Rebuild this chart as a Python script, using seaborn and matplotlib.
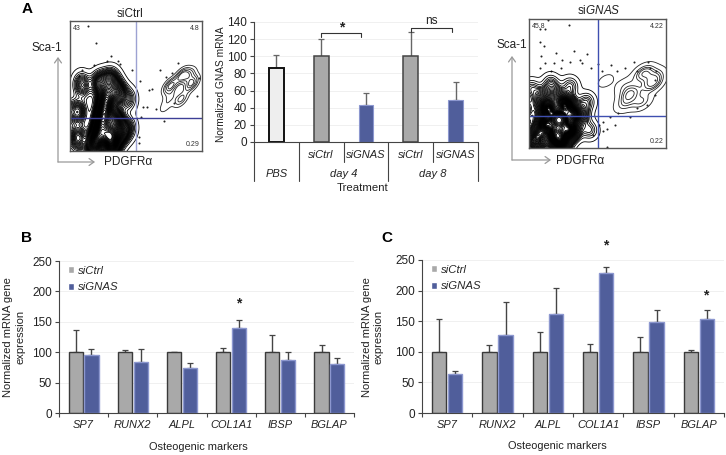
import numpy as np
import pandas as pd
import matplotlib
matplotlib.use("Agg")
import matplotlib.pyplot as plt
from matplotlib.transforms import blended_transform_factory
import seaborn as sns

# ---- panel A bars
a_groups = ["PBS", "siCtrl d4", "siGNAS d4", "siCtrl d8", "siGNAS d8"]
a_means = [86, 100, 43, 100, 49]
a_tops = [101, 120, 57, 128, 70]

# ---- panels B / C
markers = ["SP7", "RUNX2", "ALPL", "COL1A1", "IBSP", "BGLAP"]
b_ctrl = [100, 100, 100, 100, 100, 100]
b_ctrl_top = [136, 103, 101, 107, 128, 112]
b_gnas = [95, 84, 74, 140, 87, 81]
b_gnas_top = [105, 105, 83, 153, 101, 91]
c_ctrl = [100, 100, 100, 100, 100, 100]
c_ctrl_top = [153, 111, 132, 113, 124, 103]
c_gnas = [64, 128, 161, 229, 149, 153]
c_gnas_top = [69, 182, 205, 238, 168, 168]

# ---- flow plots: density anchors (x, y, weight) and lone events, 0-100 units
ctrl_x = [-4, 6, 6, 18, 22, 24, 26, 28, 30, 32, 34, 36, 30, 22, 38, 10, 44, 44, 34, 24, 8]
ctrl_y = [30, 10, 30, 5, 12, 22, 32, 42, 12, 4, 24, 45, 54, 52, 14, 50, 40, 18, 56, 54, 52]
ctrl_w = [5, 6, 6, 9, 12, 12, 12, 10, 14, 9, 10, 8, 6, 5, 8, 3, 3, 3, 1, 1, 2]
ctrl_x2 = [76, 92, 84, 85, 76, 90, 72]
ctrl_y2 = [50, 52, 40, 58, 42, 58, 34]
ctrl_w2 = [8, 8, 5, 8, 3, 5, 2]
ctrl_dots_x = [14, 20, 31, 36, 28, 38, 18, 9, 7, 47, 53, 68, 82, 77, 73, 62, 60, 98, 96, 79, 58, 55, 65, 54, 71, 52, 52]
ctrl_dots_y = [96, 83, 73, 69, 69, 67, 66, 62, 58, 62, 54, 62, 68, 60, 57, 48, 47, 56, 42, 37, 34, 34, 32, 26, 23, 11, 6]

gnas_x = [6, 12, 14, 20, 22, 26, 30, 32, 18, 10, 24, -4, 38, 42, 30, 16, 44, 2]
gnas_y = [8, 18, 30, 10, 22, 34, 14, 26, 40, 38, 4, 30, 26, 36, 48, 50, 14, 46]
gnas_w = [10, 12, 12, 14, 16, 12, 12, 10, 5, 5, 8, 4, 3, 2, 2, 2, 2, 2]
gnas_x2 = [74, 90, 82, 84, 70, 92, 56, 70]
gnas_y2 = [42, 50, 36, 58, 34, 56, 52, 48]
gnas_w2 = [8, 8, 5, 8, 4, 4, 2, 3]
gnas_dots_x = [14, 12, 8, 29, 8, 11, 20, 33, 42, 9, 12, 18, 24, 30, 37, 39, 8, 16, 23, 45, 50, 53, 60, 64, 70, 77, 87, 88, 79, 93, 92, 92, 86, 79, 74, 65, 59, 54, 63, 57, 51, 47, 57, 54]
gnas_dots_y = [99, 92, 92, 95, 82, 79, 74, 75, 73, 71, 66, 66, 68, 67, 68, 66, 62, 60, 62, 62, 65, 60, 64, 60, 62, 67, 67, 62, 60, 60, 53, 41, 33, 31, 24, 27, 24, 20, 18, 15, 18, 10, 1, 13]

GREY = "#a9a9a9"
BLUE = "#4356a8"
W, H = 726, 455

sns.set_theme(style="white")
plt.rcParams["font.family"] = ["Liberation Sans", "DejaVu Sans"]
plt.rcParams["font.size"] = 8
plt.rcParams["mathtext.fontset"] = "custom"
plt.rcParams["mathtext.rm"] = "Liberation Sans"
plt.rcParams["mathtext.it"] = "Liberation Sans:italic"

fig = plt.figure(figsize=(W / 100, H / 100), dpi=100)


def px_axes(x0, y0, x1, y1):
    # pixel box, y measured from the top of the image
    return fig.add_axes([x0 / W, 1 - y1 / H, (x1 - x0) / W, (y1 - y0) / H])


def px_text(x, y, s, **kw):
    kw.setdefault("ha", "center")
    kw.setdefault("va", "center")
    kw.setdefault("color", "#222222")
    fig.text(x / W, 1 - y / H, s, **kw)


def px_arrow(x0, y0, x1, y1):
    fig.add_artist(matplotlib.patches.FancyArrowPatch(
        (x0 / W, 1 - y0 / H), (x1 / W, 1 - y1 / H), transform=fig.transFigure,
        arrowstyle="->,head_length=3.5,head_width=2.5", color="#999999", lw=0.9,
        shrinkA=0, shrinkB=0))


def style_bar_axis(ax, ymax, step):
    ax.set_ylim(0, ymax)
    ax.set_yticks(np.arange(0, ymax + 1, step))
    ax.yaxis.grid(True, color="#f0f0f0", lw=0.7)
    ax.set_axisbelow(True)
    ax.set_xlabel("")
    ax.set_ylabel("")
    sns.despine(ax=ax)
    for side in ["left", "bottom"]:
        ax.spines[side].set_color("#444444")
        ax.spines[side].set_linewidth(0.8)
    ax.tick_params(axis="y", left=True, length=3, width=0.8, color="#444444",
                   labelsize=8.5, pad=2, labelcolor="#222222")


def draw_errs(ax, xs, means, tops, color, cap=2.5):
    means = np.array(means)
    tops = np.array(tops)
    ax.errorbar(xs, means, yerr=[np.zeros(len(means)), tops - means], fmt="none",
                ecolor=color, elinewidth=1.0, capsize=cap, capthick=0.9, zorder=1.5)


def marker_panel(box, ctrl, ctrl_top, gnas, gnas_top):
    ax = px_axes(*box)
    df = pd.DataFrame({
        "marker": markers * 2,
        "value": ctrl + gnas,
        "group": ["siCtrl"] * len(markers) + ["siGNAS"] * len(markers),
    })
    sns.barplot(data=df, x="marker", y="value", hue="group", hue_order=["siCtrl", "siGNAS"],
                palette=[GREY, BLUE], width=0.64, gap=0.1, errorbar=None, ax=ax, zorder=2)
    edges = ["#3a3a3a", "#8c97cf"]
    tops = [ctrl_top, gnas_top]
    vals = [ctrl, gnas]
    for cont, edge, top, val in zip(ax.containers, edges, tops, vals):
        xs = []
        for p in cont:
            p.set_edgecolor(edge)
            p.set_linewidth(1.0)
            xs.append(p.get_x() + p.get_width() / 2)
        draw_errs(ax, xs, val, top, "#444444")
    style_bar_axis(ax, 250, 50)
    ax.set_xlim(-0.5, 5.5)
    ax.set_xticks(np.arange(-0.5, 6, 1))
    ax.set_xticklabels([])
    ax.set_xticks(range(6), markers, minor=True, style="italic", fontsize=7.9, color="#222222")
    ax.tick_params(axis="x", which="major", bottom=True, length=3, width=0.8, color="#444444")
    ax.tick_params(axis="x", which="minor", bottom=False, pad=1)
    ax.legend(loc="upper left", bbox_to_anchor=(0.03, 0.97), frameon=False,
              prop={"style": "italic", "size": 8.2}, handlelength=0.55, handleheight=0.6,
              handletextpad=0.3, labelspacing=0.6, borderaxespad=0, borderpad=0)
    return ax


def flow_panel(box, x, y, w, x2, y2, w2, dx, dy, v_col, h_col, labels, bw, lv):
    ax = px_axes(*box)
    sns.kdeplot(x=x, y=y, weights=w, bw_method=bw, levels=lv, thresh=0.008, color="black",
                linewidths=0.6, cut=6, gridsize=220, ax=ax)
    sns.kdeplot(x=x2, y=y2, weights=w2, bw_method=0.5, levels=6, thresh=0.08, color="#222222",
                linewidths=0.6, cut=6, gridsize=120, ax=ax)
    sns.scatterplot(x=dx, y=dy, s=2.2, color="#222222", linewidth=0, ax=ax)
    ax.axvline(50, color=v_col, lw=1.0)
    ax.axhline(25, color=h_col, lw=1.0)
    ax.set_xlim(0, 100)
    ax.set_ylim(0, 100)
    ax.set_xticks([])
    ax.set_yticks([])
    ax.set_xlabel("")
    ax.set_ylabel("")
    for s in ax.spines.values():
        s.set_visible(True)
        s.set_color("#555555")
        s.set_linewidth(1.0)
    pos = [(2, 97, "left", "top"), (98, 97, "right", "top"),
           (2, 2, "left", "bottom"), (98, 2, "right", "bottom")]
    for (tx, ty, ha, va), lab in zip(pos, labels):
        ax.text(tx, ty, lab, fontsize=5, ha=ha, va=va, color="#333333", zorder=5)
    return ax


# ---- A: flow plots
flow_panel((70, 21, 202, 151), ctrl_x, ctrl_y, ctrl_w, ctrl_x2, ctrl_y2, ctrl_w2,
           ctrl_dots_x, ctrl_dots_y, "#9da2d2", "#3d3f96", ["43", "4.8", "51.9", "0.29"], 0.36, 48)
flow_panel((529, 19, 666, 148), gnas_x, gnas_y, gnas_w, gnas_x2, gnas_y2, gnas_w2,
           gnas_dots_x, gnas_dots_y, "#3f4fb0", "#3f4fb0", ["45.8", "4.22", "49.8", "0.22"], 0.4, 55)

px_text(130, 14, "siCtrl", fontsize=8.5)
px_text(47, 48, "Sca-1", fontsize=8.5)
px_text(128, 162, "PDGFRα", fontsize=8.5)
px_arrow(58, 162, 58, 57)
px_arrow(58, 162, 95, 162)

px_text(599, 11, "si$\\mathit{GNAS}$", fontsize=8.5)
px_text(512, 45, "Sca-1", fontsize=8.5)
px_text(580, 161, "PDGFRα", fontsize=8.5)
px_arrow(512, 160, 512, 56)
px_arrow(512, 160, 551, 160)

# ---- A: bars
ax_a = px_axes(254, 22, 478, 142)
sns.barplot(x=a_groups, y=a_means, hue=a_groups, palette=["#eeeeee", GREY, BLUE, GREY, BLUE],
            width=0.33, errorbar=None, legend=False, ax=ax_a, zorder=2)
a_edges = ["#111111", "#444444", "#8c97cf", "#444444", "#8c97cf"]
a_lw = [1.4, 1.1, 0.8, 1.1, 0.8]
a_xs = []
bars = [p for c in ax_a.containers for p in c]
for p, e, lw in zip(bars, a_edges, a_lw):
    p.set_edgecolor(e)
    p.set_linewidth(lw)
    a_xs.append(p.get_x() + p.get_width() / 2)
draw_errs(ax_a, a_xs, a_means, a_tops, "#666666", cap=2.2)
style_bar_axis(ax_a, 140, 20)
ax_a.set_xlim(-0.5, 4.5)
ax_a.set_xticks([])

tr = blended_transform_factory(ax_a.transData, ax_a.transAxes)
sep_x = [-0.5, 0.5, 1.5, 2.5, 3.5, 4.5]
sep_depth = [-0.325, -0.325, -0.165, -0.325, -0.165, -0.325]
for sx, d in zip(sep_x, sep_depth):
    ax_a.plot([sx, sx], [0, d], transform=tr, color="#444444", lw=0.8, clip_on=False)
for sx, lab in zip([1, 2, 3, 4], ["siCtrl", "siGNAS", "siCtrl", "siGNAS"]):
    ax_a.text(sx, -0.11, lab, transform=tr, ha="center", va="center", style="italic",
              fontsize=8, color="#222222")
for sx, lab in zip([0, 1.5, 3.5], ["PBS", "day 4", "day 8"]):
    ax_a.text(sx, -0.27, lab, transform=tr, ha="center", va="center", style="italic",
              fontsize=8, color="#222222")
px_text(363, 188, "Treatment", fontsize=8.2)

# significance brackets
ax_a.plot([1, 1, 1.88, 1.88], [122, 127, 127, 122], color="#333333", lw=0.8, clip_on=False, zorder=3)
ax_a.plot([3, 3, 3.93, 3.93], [128, 133, 133, 128], color="#333333", lw=0.8, clip_on=False, zorder=3)
px_text(342, 27, "*", fontsize=10, fontweight="bold")
px_text(431, 21, "ns", fontsize=8.5)

px_text(221, 84, "Normalized GNAS mRNA", fontsize=7.3, rotation=90)

# ---- B / C
marker_panel((59, 261, 354, 413), b_ctrl, b_ctrl_top, b_gnas, b_gnas_top)
marker_panel((422, 260, 724, 413), c_ctrl, c_ctrl_top, c_gnas, c_gnas_top)

px_text(198, 447, "Osteogenic markers", fontsize=7.9)
px_text(557, 446, "Osteogenic markers", fontsize=7.9)
px_text(8, 337, "Normalized mRNA gene", fontsize=8, rotation=90)
px_text(20, 337, "expression", fontsize=8, rotation=90)
px_text(367, 337, "Normalized mRNA gene", fontsize=8, rotation=90)
px_text(379, 337, "expression", fontsize=8, rotation=90)

px_text(239, 303, "*", fontsize=10, fontweight="bold")
px_text(606, 245, "*", fontsize=10, fontweight="bold")
px_text(706, 295, "*", fontsize=10, fontweight="bold")

# ---- panel letters
px_text(27, 9, "A", fontsize=11, fontweight="bold", color="black")
px_text(27, 238, "B", fontsize=11, fontweight="bold", color="black")
px_text(387, 238, "C", fontsize=11, fontweight="bold", color="black")

fig.savefig("out.png", dpi=100)
